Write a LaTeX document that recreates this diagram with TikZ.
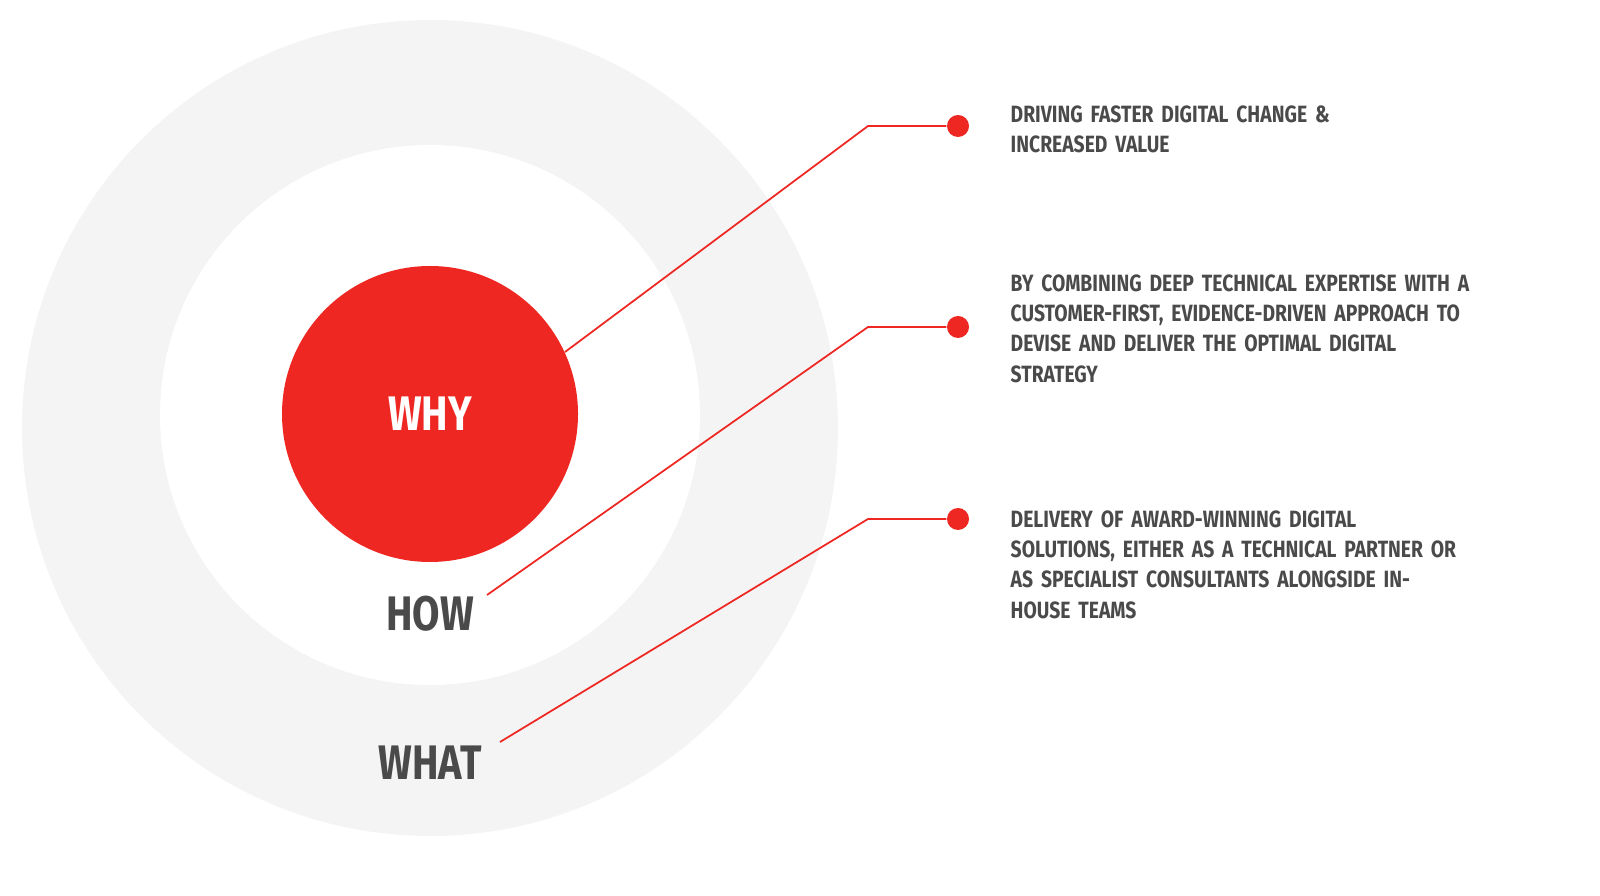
\documentclass[tikz,border=0pt]{standalone}
\usepackage{fontspec}
\setmainfont{Fira Sans}[FakeStretch=0.82]
\usetikzlibrary{positioning}
\definecolor{redwhy}{HTML}{EE2722}
\definecolor{ringgray}{HTML}{F4F4F4}
\definecolor{textgray}{HTML}{4A4A4A}
\tikzset{
  dot/.style={circle,fill=redwhy,inner sep=0pt,minimum size=0.22cm},
  lead/.style={redwhy,line width=0.5pt},
  desc/.style={text width=5.2cm,align=left,anchor=north west,textgray,font=\bfseries\fontsize{6.7}{8.6}\selectfont,inner sep=0pt},
  ringtext/.style={font=\bfseries\fontsize{13.8}{14}\selectfont,textgray}
}
\begin{document}
\begin{tikzpicture}[y=-1cm]
\useasboundingbox (0,0) rectangle (16,8.96);
				\fill[ringgray] (4.30,4.28) circle (4.08);
				\fill[white] (4.30,4.15) circle (2.70);
				\fill[redwhy] (4.30,4.14) circle (1.48);
				\node(why) [white,font=\bfseries\fontsize{13.8}{14}\selectfont] at (4.30,4.14) {WHY};
				\node(how) [ringtext] at (4.30,6.14) {HOW};
				\node(what) [ringtext] at (4.30,7.63) {WHAT};
				
				%----------------------------------------------------------------
				\node(d1) [dot] at (9.58,1.26) {};
				\node(d2) [dot] at (9.58,3.27) {};
				\node(d3) [dot] at (9.58,5.19) {};
				\coordinate(s1) at (5.65,3.52);
				\coordinate(s2) at (4.87,5.95);
				\coordinate(s3) at (5.00,7.42);
				\draw[lead] (s1) -- (8.68,1.26) -- (d1);
				\draw[lead] (s2) -- (8.68,3.27) -- (d2);
				\draw[lead] (s3) -- (8.68,5.19) -- (d3);
				
				%----------------------------------------------------------------
				\node(t1) [desc] at (10.10,1.05) {DRIVING FASTER DIGITAL CHANGE \&\\ INCREASED VALUE};
				\node(t2) [desc] at (10.10,2.74) {BY COMBINING DEEP TECHNICAL EXPERTISE WITH A\\ CUSTOMER-FIRST, EVIDENCE-DRIVEN APPROACH TO\\ DEVISE AND DELIVER THE OPTIMAL DIGITAL\\ STRATEGY};
				\node(t3) [desc] at (10.10,5.10) {DELIVERY OF AWARD-WINNING DIGITAL\\ SOLUTIONS, EITHER AS A TECHNICAL PARTNER OR\\ AS SPECIALIST CONSULTANTS ALONGSIDE IN-\\ HOUSE TEAMS};
\end{tikzpicture}
\end{document}
